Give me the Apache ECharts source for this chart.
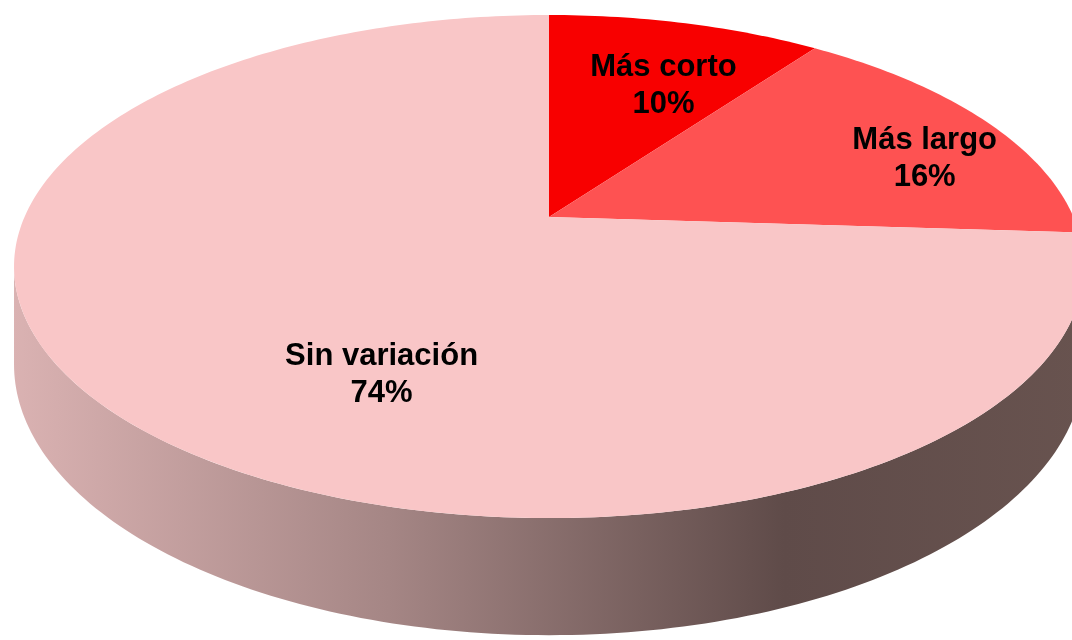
<!DOCTYPE html>
<html><head><meta charset="utf-8">
<script src="https://cdn.jsdelivr.net/npm/echarts@6/dist/echarts.min.js"></script>
<style>html,body{margin:0;padding:0;background:#fff}#c{width:1072px;height:640px}</style>
</head><body><div id="c"></div>
<script>
// ---- data ----
const categories = ['Más corto', 'Más largo', 'Sin variación'];
const values = [10, 16, 74];
// ---- style ----
const sliceColors = ['#f80000', '#fe5252', '#f9c6c7'];
const labelPlacement = [ {r: 0.655, shift: 3.9}, {r: 0.792, shift: 6.8}, {r: 0.643, shift: -20.7} ];
const CX = 549, CY = 217, RX = 524.5, RY = 241.8, B = 0.197, H = 94;

const total = values.reduce((a, b) => a + b, 0);
function proj(r, th, drop) {
  const u = r * Math.sin(th), v = -r * Math.cos(th);
  const d = 1 - B * v;
  return [CX + RX * u / d, CY + (RY * v + drop) / d];
}
function arc(a0, a1, drop) {
  const pts = [];
  const n = Math.max(2, Math.ceil((a1 - a0) / (Math.PI * 2) * 360));
  for (let i = 0; i <= n; i++) pts.push(proj(1, a0 + (a1 - a0) * i / n, drop));
  return pts;
}
const chart = echarts.init(document.getElementById('c'), null, {renderer: 'canvas'});
const silR = Math.acos(-B), silL = 2 * Math.PI - Math.acos(-B);
chart.setOption({
  animation: false,
  series: [
    {
      type: 'custom', coordinateSystem: 'none', silent: true, z: 1,
      data: [0],
      renderItem: function () {
        const top = arc(silR, silL, 0);
        const bot = arc(silR, silL, H).reverse();
        return {
          type: 'polygon',
          shape: { points: top.concat(bot) },
          style: {
            fill: new echarts.graphic.LinearGradient(0, 0, 1, 0, [
              {offset: 0, color: '#dab2b2'},
              {offset: 0.35, color: '#a58685'},
              {offset: 0.72, color: '#5f4b49'},
              {offset: 1, color: '#68534f'}
            ])
          }
        };
      }
    },
    {
      type: 'custom', coordinateSystem: 'none', z: 2,
      data: values.map((v, i) => ({ name: categories[i], value: v })),
      renderItem: function (params, api) {
        const i = params.dataIndex;
        let s = 0; for (let k = 0; k < i; k++) s += values[k];
        const val = api.value(0);
        const a0 = s / total * Math.PI * 2, a1 = (s + val) / total * Math.PI * 2;
        const pts = [proj(0, 0, 0)].concat(arc(a0, a1, 0));
        const lp = labelPlacement[i];
        const pos = proj(lp.r, (a0 + a1) / 2 + lp.shift * Math.PI / 180, 0);
        return {
          type: 'group',
          children: [
            { type: 'polygon', shape: { points: pts }, style: { fill: sliceColors[i] } },
            { type: 'text', x: pos[0], y: pos[1], z2: 10,
              style: {
                text: categories[i] + '\n' + Math.round(val / total * 100) + '%',
                font: 'bold 31px "Liberation Sans", Arial, sans-serif',
                lineHeight: 37, fill: '#000', align: 'center', verticalAlign: 'middle'
              } }
          ]
        };
      }
    }
  ]
});
</script></body></html>
